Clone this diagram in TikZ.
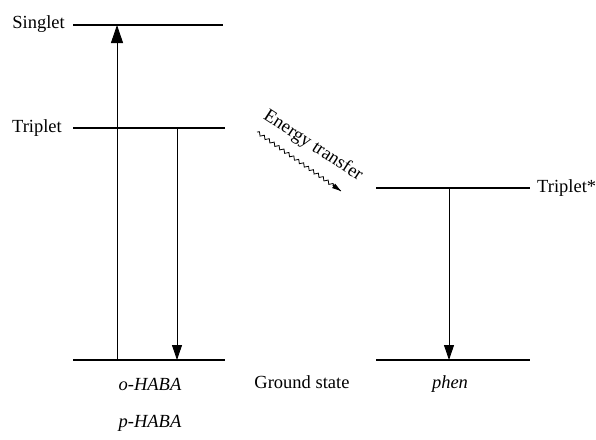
\documentclass[tikz,border=0pt]{standalone}
\usepackage{fontspec}
\setmainfont{Liberation Serif}
\usetikzlibrary{arrows.meta,decorations.pathmorphing,calc}
\begin{document}
\begin{tikzpicture}[x=1pt,y=-1pt,
  level/.style={line width=1.3pt},
  trans/.style={line width=0.9pt},
  bighead/.style={-{Triangle[length=18pt,width=12pt]}},
  smallhead/.style={-{Triangle[length=15pt,width=10pt]}},
  lbl/.style={inner sep=0pt,font=\fontsize{18.5}{20}\selectfont},
  wave/.style={line width=0.8pt,decorate,
    decoration={snake,amplitude=1.6pt,segment length=6pt,post length=8pt}}]
\useasboundingbox (0,0) rectangle (596,439);
% energy levels of the HABA ligands
\coordinate (S1) at (73,25);   \coordinate (S2) at (223,25);
\coordinate (T1) at (73,128);  \coordinate (T2) at (225,128);
\coordinate (G1) at (73,360);  \coordinate (G2) at (225,360);
% energy levels of phen
\coordinate (P1) at (376,188); \coordinate (P2) at (530,188);
\coordinate (Q1) at (376,360); \coordinate (Q2) at (530,360);
\draw[level] (S1) -- (S2);
\draw[level] (T1) -- (T2);
\draw[level] (G1) -- (G2);
\draw[level] (P1) -- (P2);
\draw[level] (Q1) -- (Q2);
% transitions
\coordinate (upA) at (117,360); \coordinate (upB) at (117,25);
\coordinate (dnA) at (177,128); \coordinate (dnB) at (177,360);
\coordinate (phA) at (449,188); \coordinate (phB) at (449,360);
\draw[trans,bighead] (upA) -- (upB);
\draw[trans,smallhead] (dnA) -- (dnB);
\draw[trans,smallhead] (phA) -- (phB);
% energy transfer
\coordinate (wA) at (257,132); \coordinate (wB) at (341,191);
\coordinate (wC) at ($(wA)!0.9!(wB)$);
\draw[wave] (wA) -- (wB);
\draw[line width=0.8pt,-{Triangle[length=9pt,width=5pt]}] (wC) -- (wB);
\node[lbl,rotate=-33] (et) at (313,146) {Energy transfer};
% labels
\node[lbl,anchor=east] (sl) at (65,24) {Singlet};
\node[lbl,anchor=east] (tl) at (62,128) {Triplet};
\node[lbl,anchor=west] (tsl) at (537,188) {Triplet*};
\node[lbl] (oh) at (150,384) {\itshape o-HABA};
\node[lbl] (ph) at (150,423) {\itshape p-HABA};
\node[lbl] (gs) at (302,382) {Ground state};
\node[lbl] (pn) at (450,384) {\itshape phen};
\end{tikzpicture}
\end{document}
